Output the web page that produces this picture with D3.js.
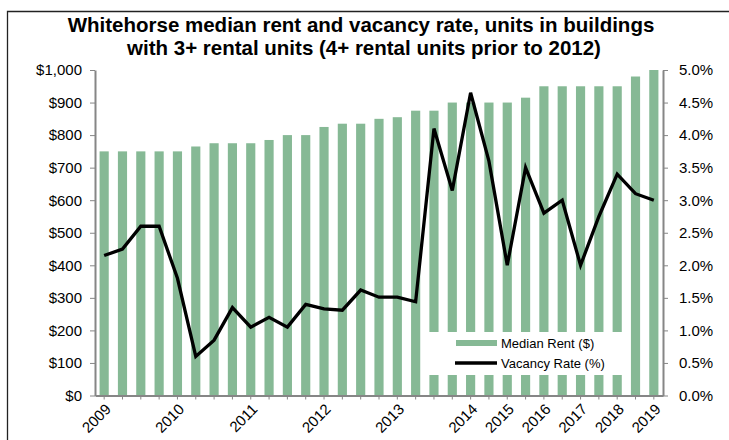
<!DOCTYPE html>
<html>
<head>
<meta charset="utf-8">
<script src="https://d3js.org/d3.v7.min.js"></script>
<style>
body { margin: 0; background: #fff; }
svg { font-family: "Liberation Sans", Arial, sans-serif; }
.axis path, .axis line { stroke: #868686; }
.axis text { font-size: 15px; fill: #000; }
</style>
</head>
<body>
<svg width="729" height="440"></svg>
<script>
// quarterly to 2013, then two surveys a year
var periods = ["2009Q1","2009Q2","2009Q3","2009Q4","2010Q1","2010Q2","2010Q3","2010Q4",
  "2011Q1","2011Q2","2011Q3","2011Q4","2012Q1","2012Q2","2012Q3","2012Q4",
  "2013Q1","2013Q2","2013Q3","2013Q4","2014A","2014B","2015A","2015B",
  "2016A","2016B","2017A","2017B","2018A","2018B","2019A"];
var yearLabels = {"2009Q1":"2009","2010Q1":"2010","2011Q1":"2011","2012Q1":"2012","2013Q1":"2013",
  "2014A":"2014","2015A":"2015","2016A":"2016","2017A":"2017","2018A":"2018","2019A":"2019"};
var medianRent = [750,750,750,750,750,765,775,775,775,785,800,800,825,835,835,850,
  855,875,875,900,900,900,900,915,950,950,950,950,950,980,1000];
var vacancyRate = [2.15,2.25,2.6,2.6,1.8,0.6,0.85,1.35,1.05,1.2,1.05,1.4,1.33,1.31,1.62,1.51,
  1.51,1.44,4.1,3.15,4.65,3.6,2.0,3.5,2.8,3.0,2.0,2.75,3.4,3.1,3.0];
var rentTicks = [0,100,200,300,400,500,600,700,800,900,1000];
var rateTicks = [0,0.5,1,1.5,2,2.5,3,3.5,4,4.5,5];

var svg = d3.select("svg");
var plotL = 95, plotR = 663, plotT = 70, plotB = 395.5;

// frame
svg.append("path")
  .attr("d", "M7.5,440 V11.5 H729")
  .attr("fill", "none").attr("stroke", "#222").attr("stroke-width", 1.3);

svg.append("text").attr("x", 361).attr("y", 32)
  .attr("text-anchor", "middle").attr("font-size", "20.5px").attr("font-weight", "bold")
  .text("Whitehorse median rent and vacancy rate, units in buildings");
svg.append("text").attr("x", 364).attr("y", 55)
  .attr("text-anchor", "middle").attr("font-size", "20.5px").attr("font-weight", "bold")
  .text("with 3+ rental units (4+ rental units prior to 2012)");

var x = d3.scaleBand().domain(periods).range([plotL, plotR]).paddingInner(0.5).paddingOuter(0.25);
var yRent = d3.scaleLinear().domain([0, 1000]).range([plotB, plotT]);
var yRate = d3.scaleLinear().domain([0, 5]).range([plotB, plotT]);

svg.append("g")
  .selectAll("rect")
  .data(periods)
  .enter()
  .append("rect")
    .attr("x", function(d) { return x(d); })
    .attr("width", x.bandwidth())
    .attr("y", function(d, i) { return yRent(medianRent[i]); })
    .attr("height", function(d, i) { return plotB - yRent(medianRent[i]); })
    .attr("fill", "#86b995");

// legend box sits on top of the bars
svg.append("rect").attr("x", 428).attr("y", 332).attr("width", 200).attr("height", 43).attr("fill", "#fff");

var line = d3.line()
  .x(function(d, i) { return x(periods[i]) + x.bandwidth() / 2; })
  .y(function(d) { return yRate(d); });
svg.append("path")
  .datum(vacancyRate)
  .attr("d", line)
  .attr("fill", "none")
  .attr("stroke", "#000")
  .attr("stroke-width", 3.3)
  .attr("stroke-linejoin", "miter");

svg.append("g").attr("class", "axis")
  .attr("transform", "translate(" + plotL + ",0)")
  .call(d3.axisLeft(yRent).tickValues(rentTicks).tickSize(5).tickSizeOuter(0).tickPadding(8)
    .tickFormat(function(d) { return "$" + d3.format(",")(d); }))
  .call(g => g.select(".domain").attr("stroke-width", 2));

svg.append("g").attr("class", "axis")
  .attr("transform", "translate(" + plotR + ",0)")
  .call(d3.axisRight(yRate).tickValues(rateTicks).tickSize(5).tickSizeOuter(0).tickPadding(11)
    .tickFormat(function(d) { return d.toFixed(1) + "%"; }))
  .call(g => g.select(".domain").attr("stroke-width", 2));

svg.append("g").attr("class", "axis")
  .attr("transform", "translate(0," + plotB + ")")
  .call(d3.axisBottom(x).tickSize(4).tickSizeOuter(0).tickFormat(function(d) { return yearLabels[d] || ""; }))
  .call(g => g.select(".domain").attr("stroke-width", 2))
  .call(g => g.selectAll("text")
    .attr("text-anchor", "end")
    .attr("y", 0)
    .attr("dy", "0.35em")
    .attr("transform", "translate(4,11) rotate(-45)"));

// legend
svg.append("rect").attr("x", 456).attr("y", 340).attr("width", 41).attr("height", 6).attr("fill", "#86b995");
svg.append("text").attr("x", 501).attr("y", 348).attr("font-size", "13px").text("Median Rent ($)");
svg.append("line").attr("x1", 455).attr("x2", 497).attr("y1", 363).attr("y2", 363)
  .attr("stroke", "#000").attr("stroke-width", 3.3);
svg.append("text").attr("x", 501).attr("y", 368).attr("font-size", "13px").text("Vacancy Rate (%)");
</script>
</body>
</html>
